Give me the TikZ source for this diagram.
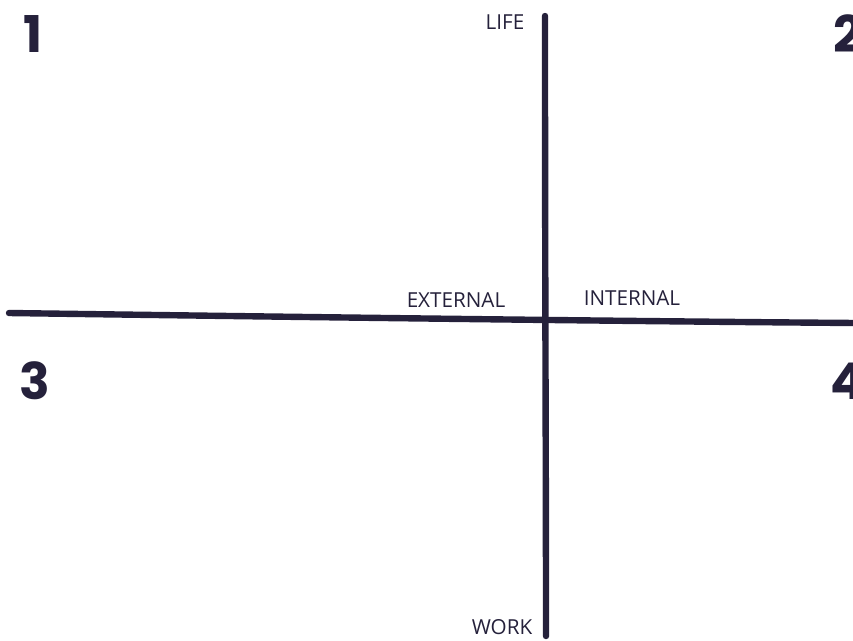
\documentclass[tikz,border=0pt]{standalone}
\usepackage{fontspec}
\setmainfont{Open Sans}
\newfontfamily\numfont{Poppins}[BoldFont={* Bold}]
\usepackage{tikz}
\usetikzlibrary{positioning}

\definecolor{inkblue}{HTML}{25213B}

\tikzset{
  axisline/.style={draw=inkblue, line width=4.8pt, line cap=round},
  axislabel/.style={text=inkblue, font=\fontsize{15.5}{17}\selectfont, inner sep=0pt},
  quadnum/.style={text=inkblue, font=\numfont\bfseries\fontsize{38}{38}\selectfont, inner sep=0pt}
}

\begin{document}
\begin{tikzpicture}[x=0.75pt, y=-0.75pt]
  \useasboundingbox (0,0) rectangle (853,640);
  % axes
  \coordinate (top) at (545,16);
  \coordinate (bottom) at (546,636);
  \coordinate (left) at (9,313);
  \coordinate (right) at (856,323);
  \draw[axisline] (top) .. controls (545,300) and (546,450) .. (bottom);
  \draw[axisline] (left) .. controls (300,317) and (600,321) .. (right);
  % axis labels
  \node[axislabel] (life) at (505,22) {LIFE};
  \node[axislabel] (work) at (502,627) {WORK};
  \node[axislabel] (external) at (456,300) {EXTERNAL};
  \node[axislabel] (internal) at (632,298) {INTERNAL};
  % quadrant numbers
  \node[quadnum] (q1) at (33,34) {1};
  \node[quadnum] (q2) at (848,34) {2};
  \node[quadnum] (q3) at (35,381) {3};
  \node[quadnum] (q4) at (848,381) {4};
\end{tikzpicture}
\end{document}
